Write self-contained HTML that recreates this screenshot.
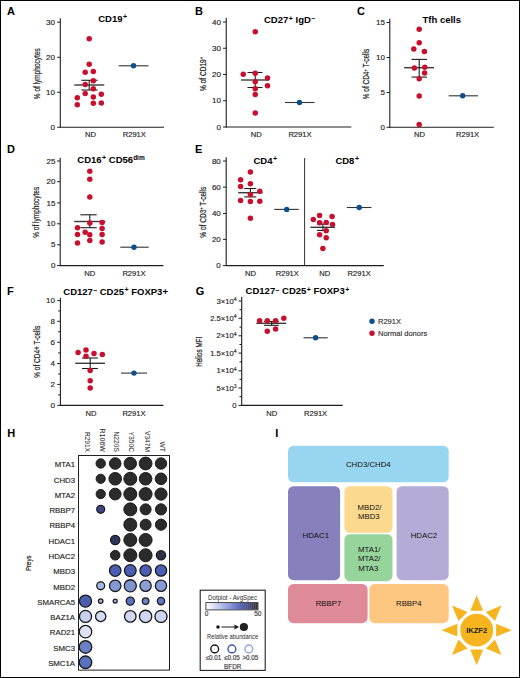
<!DOCTYPE html>
<html><head><meta charset="utf-8"><style>
html,body{margin:0;padding:0;background:#fff;}
svg{display:block;font-family:"Liberation Sans", sans-serif;}
</style></head><body>
<svg width="520" height="678" viewBox="0 0 520 678">
<rect x="0.5" y="0.5" width="519" height="677" fill="#fff" stroke="#000" stroke-width="1"/>
<text x="7.00" y="15.20" font-size="11" text-anchor="start" font-weight="bold" fill="#000" >A</text>
<line x1="60.30" y1="18.30" x2="60.30" y2="127.70" stroke="#1e1e1e" stroke-width="1.1"/>
<line x1="57.10" y1="127.20" x2="60.30" y2="127.20" stroke="#1e1e1e" stroke-width="1"/>
<text x="55.00" y="129.85" font-size="8" text-anchor="end" font-weight="normal" fill="#222" stroke="#222" stroke-width="0.15">0</text>
<line x1="57.10" y1="92.25" x2="60.30" y2="92.25" stroke="#1e1e1e" stroke-width="1"/>
<text x="55.00" y="94.90" font-size="8" text-anchor="end" font-weight="normal" fill="#222" stroke="#222" stroke-width="0.15">10</text>
<line x1="57.10" y1="57.30" x2="60.30" y2="57.30" stroke="#1e1e1e" stroke-width="1"/>
<text x="55.00" y="59.95" font-size="8" text-anchor="end" font-weight="normal" fill="#222" stroke="#222" stroke-width="0.15">20</text>
<line x1="57.10" y1="22.20" x2="60.30" y2="22.20" stroke="#1e1e1e" stroke-width="1"/>
<text x="55.00" y="24.85" font-size="8" text-anchor="end" font-weight="normal" fill="#222" stroke="#222" stroke-width="0.15">30</text>
<line x1="60.00" y1="127.20" x2="164.00" y2="127.20" stroke="#1e1e1e" stroke-width="1.1"/>
<text x="0" y="0" font-size="8.2" text-anchor="middle" fill="#222" stroke="#222" stroke-width="0.2" transform="translate(40,73.7) rotate(-90)" textLength="51" lengthAdjust="spacingAndGlyphs">% of lymphocytes</text>
<text x="98.2" y="21.6" font-size="9.5" font-weight="bold" fill="#000">CD19<tspan font-size="7" dx="0.5" dy="-2.3">+</tspan></text>
<line x1="74.30" y1="85.00" x2="104.30" y2="85.00" stroke="#3a3a3a" stroke-width="1.4"/>
<line x1="81.30" y1="80.30" x2="97.50" y2="80.30" stroke="#1e1e1e" stroke-width="1.1"/>
<line x1="81.30" y1="90.00" x2="97.50" y2="90.00" stroke="#1e1e1e" stroke-width="1.1"/>
<line x1="89.20" y1="80.30" x2="89.20" y2="90.00" stroke="#1e1e1e" stroke-width="1.1"/>
<line x1="118.70" y1="65.80" x2="148.50" y2="65.80" stroke="#333" stroke-width="1.1"/>
<text x="90.50" y="137.30" font-size="7.6" text-anchor="middle" font-weight="normal" fill="#222" stroke="#222" stroke-width="0.15">ND</text>
<text x="134.30" y="137.30" font-size="7.6" text-anchor="middle" font-weight="normal" fill="#222" stroke="#222" stroke-width="0.15">R291X</text>
<text x="195.00" y="15.20" font-size="11" text-anchor="start" font-weight="bold" fill="#000" >B</text>
<line x1="226.25" y1="18.00" x2="226.25" y2="127.50" stroke="#1e1e1e" stroke-width="1.1"/>
<line x1="223.05" y1="127.00" x2="226.25" y2="127.00" stroke="#1e1e1e" stroke-width="1"/>
<text x="221.00" y="129.65" font-size="8" text-anchor="end" font-weight="normal" fill="#222" stroke="#222" stroke-width="0.15">0</text>
<line x1="223.05" y1="100.75" x2="226.25" y2="100.75" stroke="#1e1e1e" stroke-width="1"/>
<text x="221.00" y="103.40" font-size="8" text-anchor="end" font-weight="normal" fill="#222" stroke="#222" stroke-width="0.15">10</text>
<line x1="223.05" y1="74.50" x2="226.25" y2="74.50" stroke="#1e1e1e" stroke-width="1"/>
<text x="221.00" y="77.15" font-size="8" text-anchor="end" font-weight="normal" fill="#222" stroke="#222" stroke-width="0.15">20</text>
<line x1="223.05" y1="48.25" x2="226.25" y2="48.25" stroke="#1e1e1e" stroke-width="1"/>
<text x="221.00" y="50.90" font-size="8" text-anchor="end" font-weight="normal" fill="#222" stroke="#222" stroke-width="0.15">30</text>
<line x1="223.05" y1="22.00" x2="226.25" y2="22.00" stroke="#1e1e1e" stroke-width="1"/>
<text x="221.00" y="24.65" font-size="8" text-anchor="end" font-weight="normal" fill="#222" stroke="#222" stroke-width="0.15">40</text>
<line x1="226.00" y1="127.00" x2="351.30" y2="127.00" stroke="#1e1e1e" stroke-width="1.1"/>
<text x="0" y="0" font-size="8.2" text-anchor="middle" fill="#222" stroke="#222" stroke-width="0.2" transform="translate(205.5,74) rotate(-90)" textLength="34" lengthAdjust="spacingAndGlyphs">% of CD19<tspan font-size="5" dy="-2.5">+</tspan></text>
<text x="264" y="23.2" font-size="9.5" font-weight="bold" fill="#000">CD27<tspan font-size="7" dx="0.5" dy="-2.3">+</tspan><tspan dy="2.3"> IgD</tspan><tspan font-size="7" dx="0.3" dy="-2.9">–</tspan></text>
<line x1="241.00" y1="80.00" x2="269.00" y2="80.00" stroke="#3a3a3a" stroke-width="1.4"/>
<line x1="247.50" y1="72.50" x2="262.50" y2="72.50" stroke="#1e1e1e" stroke-width="1.1"/>
<line x1="247.50" y1="87.50" x2="262.50" y2="87.50" stroke="#1e1e1e" stroke-width="1.1"/>
<line x1="255.25" y1="72.50" x2="255.25" y2="87.50" stroke="#1e1e1e" stroke-width="1.1"/>
<line x1="285.00" y1="102.50" x2="314.50" y2="102.50" stroke="#333" stroke-width="1.1"/>
<text x="256.25" y="137.30" font-size="7.6" text-anchor="middle" font-weight="normal" fill="#222" stroke="#222" stroke-width="0.15">ND</text>
<text x="300.00" y="137.30" font-size="7.6" text-anchor="middle" font-weight="normal" fill="#222" stroke="#222" stroke-width="0.15">R291X</text>
<text x="357.00" y="15.20" font-size="11" text-anchor="start" font-weight="bold" fill="#000" >C</text>
<line x1="389.80" y1="18.70" x2="389.80" y2="127.80" stroke="#1e1e1e" stroke-width="1.1"/>
<line x1="386.60" y1="127.30" x2="389.80" y2="127.30" stroke="#1e1e1e" stroke-width="1"/>
<text x="385.00" y="129.95" font-size="8" text-anchor="end" font-weight="normal" fill="#222" stroke="#222" stroke-width="0.15">0</text>
<line x1="386.60" y1="92.50" x2="389.80" y2="92.50" stroke="#1e1e1e" stroke-width="1"/>
<text x="385.00" y="95.15" font-size="8" text-anchor="end" font-weight="normal" fill="#222" stroke="#222" stroke-width="0.15">5</text>
<line x1="386.60" y1="57.50" x2="389.80" y2="57.50" stroke="#1e1e1e" stroke-width="1"/>
<text x="385.00" y="60.15" font-size="8" text-anchor="end" font-weight="normal" fill="#222" stroke="#222" stroke-width="0.15">10</text>
<line x1="386.60" y1="22.50" x2="389.80" y2="22.50" stroke="#1e1e1e" stroke-width="1"/>
<text x="385.00" y="25.15" font-size="8" text-anchor="end" font-weight="normal" fill="#222" stroke="#222" stroke-width="0.15">15</text>
<line x1="389.50" y1="127.30" x2="493.80" y2="127.30" stroke="#1e1e1e" stroke-width="1.1"/>
<text x="0" y="0" font-size="8.2" text-anchor="middle" fill="#222" stroke="#222" stroke-width="0.2" transform="translate(369.0,74.05) rotate(-90)" textLength="50.5" lengthAdjust="spacingAndGlyphs">% of CD4<tspan font-size="5" dy="-2.5">+</tspan><tspan dy="2.5"> T-cells</tspan></text>
<text x="422.5" y="23" font-size="9.5" font-weight="bold" fill="#000">Tfh cells</text>
<line x1="404.20" y1="67.70" x2="434.00" y2="67.70" stroke="#3a3a3a" stroke-width="1.4"/>
<line x1="411.50" y1="59.40" x2="427.00" y2="59.40" stroke="#1e1e1e" stroke-width="1.1"/>
<line x1="411.50" y1="77.10" x2="427.00" y2="77.10" stroke="#1e1e1e" stroke-width="1.1"/>
<line x1="419.20" y1="59.40" x2="419.20" y2="77.10" stroke="#1e1e1e" stroke-width="1.1"/>
<line x1="448.70" y1="95.80" x2="478.00" y2="95.80" stroke="#333" stroke-width="1.1"/>
<text x="419.60" y="137.30" font-size="7.6" text-anchor="middle" font-weight="normal" fill="#222" stroke="#222" stroke-width="0.15">ND</text>
<text x="467.60" y="137.30" font-size="7.6" text-anchor="middle" font-weight="normal" fill="#222" stroke="#222" stroke-width="0.15">R291X</text>
<text x="7.00" y="153.20" font-size="11" text-anchor="start" font-weight="bold" fill="#000" >D</text>
<line x1="60.20" y1="157.70" x2="60.20" y2="266.10" stroke="#1e1e1e" stroke-width="1.1"/>
<line x1="57.00" y1="265.60" x2="60.20" y2="265.60" stroke="#1e1e1e" stroke-width="1"/>
<text x="55.40" y="268.25" font-size="8" text-anchor="end" font-weight="normal" fill="#222" stroke="#222" stroke-width="0.15">0</text>
<line x1="57.00" y1="244.80" x2="60.20" y2="244.80" stroke="#1e1e1e" stroke-width="1"/>
<text x="55.40" y="247.45" font-size="8" text-anchor="end" font-weight="normal" fill="#222" stroke="#222" stroke-width="0.15">5</text>
<line x1="57.00" y1="223.80" x2="60.20" y2="223.80" stroke="#1e1e1e" stroke-width="1"/>
<text x="55.40" y="226.45" font-size="8" text-anchor="end" font-weight="normal" fill="#222" stroke="#222" stroke-width="0.15">10</text>
<line x1="57.00" y1="202.90" x2="60.20" y2="202.90" stroke="#1e1e1e" stroke-width="1"/>
<text x="55.40" y="205.55" font-size="8" text-anchor="end" font-weight="normal" fill="#222" stroke="#222" stroke-width="0.15">15</text>
<line x1="57.00" y1="181.70" x2="60.20" y2="181.70" stroke="#1e1e1e" stroke-width="1"/>
<text x="55.40" y="184.35" font-size="8" text-anchor="end" font-weight="normal" fill="#222" stroke="#222" stroke-width="0.15">20</text>
<line x1="57.00" y1="161.00" x2="60.20" y2="161.00" stroke="#1e1e1e" stroke-width="1"/>
<text x="55.40" y="163.65" font-size="8" text-anchor="end" font-weight="normal" fill="#222" stroke="#222" stroke-width="0.15">25</text>
<line x1="60.00" y1="265.60" x2="163.40" y2="265.60" stroke="#1e1e1e" stroke-width="1.1"/>
<text x="0" y="0" font-size="8.2" text-anchor="middle" fill="#222" stroke="#222" stroke-width="0.2" transform="translate(38.9,212.25) rotate(-90)" textLength="51" lengthAdjust="spacingAndGlyphs">% of lymphocytes</text>
<text x="77.3" y="162.7" font-size="9.5" font-weight="bold" fill="#000">CD16<tspan font-size="7" dx="0.5" dy="-2.3">+</tspan><tspan dy="2.3"> CD56</tspan><tspan font-size="6.5" dy="-2.5">dim</tspan></text>
<line x1="74.20" y1="221.50" x2="105.40" y2="221.50" stroke="#3a3a3a" stroke-width="1.4"/>
<line x1="80.40" y1="214.80" x2="96.70" y2="214.80" stroke="#1e1e1e" stroke-width="1.1"/>
<line x1="80.40" y1="227.70" x2="96.70" y2="227.70" stroke="#1e1e1e" stroke-width="1.1"/>
<line x1="89.80" y1="214.80" x2="89.80" y2="227.70" stroke="#1e1e1e" stroke-width="1.1"/>
<line x1="120.30" y1="247.20" x2="148.70" y2="247.20" stroke="#333" stroke-width="1.1"/>
<text x="89.80" y="276.00" font-size="7.6" text-anchor="middle" font-weight="normal" fill="#222" stroke="#222" stroke-width="0.15">ND</text>
<text x="134.00" y="276.00" font-size="7.6" text-anchor="middle" font-weight="normal" fill="#222" stroke="#222" stroke-width="0.15">R291X</text>
<text x="195.00" y="153.20" font-size="11" text-anchor="start" font-weight="bold" fill="#000" >E</text>
<line x1="226.20" y1="157.30" x2="226.20" y2="266.10" stroke="#1e1e1e" stroke-width="1.1"/>
<line x1="223.00" y1="265.60" x2="226.20" y2="265.60" stroke="#1e1e1e" stroke-width="1"/>
<text x="220.80" y="268.25" font-size="8" text-anchor="end" font-weight="normal" fill="#222" stroke="#222" stroke-width="0.15">0</text>
<line x1="223.00" y1="239.40" x2="226.20" y2="239.40" stroke="#1e1e1e" stroke-width="1"/>
<text x="220.80" y="242.05" font-size="8" text-anchor="end" font-weight="normal" fill="#222" stroke="#222" stroke-width="0.15">20</text>
<line x1="223.00" y1="213.50" x2="226.20" y2="213.50" stroke="#1e1e1e" stroke-width="1"/>
<text x="220.80" y="216.15" font-size="8" text-anchor="end" font-weight="normal" fill="#222" stroke="#222" stroke-width="0.15">40</text>
<line x1="223.00" y1="187.10" x2="226.20" y2="187.10" stroke="#1e1e1e" stroke-width="1"/>
<text x="220.80" y="189.75" font-size="8" text-anchor="end" font-weight="normal" fill="#222" stroke="#222" stroke-width="0.15">60</text>
<line x1="223.00" y1="161.00" x2="226.20" y2="161.00" stroke="#1e1e1e" stroke-width="1"/>
<text x="220.80" y="163.65" font-size="8" text-anchor="end" font-weight="normal" fill="#222" stroke="#222" stroke-width="0.15">80</text>
<line x1="226.00" y1="265.60" x2="383.80" y2="265.60" stroke="#1e1e1e" stroke-width="1.1"/>
<text x="0" y="0" font-size="8.2" text-anchor="middle" fill="#222" stroke="#222" stroke-width="0.2" transform="translate(205.6,212.25) rotate(-90)" textLength="51" lengthAdjust="spacingAndGlyphs">% of CD3<tspan font-size="5" dy="-2.5">+</tspan><tspan dy="2.5"> T-cells</tspan></text>
<line x1="304.60" y1="158.00" x2="304.60" y2="265.60" stroke="#333" stroke-width="1"/>
<text x="253.5" y="163.7" font-size="9.5" font-weight="bold" fill="#000">CD4<tspan font-size="7" dx="0.5" dy="-2.3">+</tspan></text>
<text x="335.4" y="163.7" font-size="9.5" font-weight="bold" fill="#000">CD8<tspan font-size="7" dx="0.5" dy="-2.3">+</tspan></text>
<line x1="238.20" y1="192.70" x2="262.50" y2="192.70" stroke="#3a3a3a" stroke-width="1.4"/>
<line x1="244.20" y1="188.50" x2="256.30" y2="188.50" stroke="#1e1e1e" stroke-width="1.1"/>
<line x1="244.20" y1="196.90" x2="256.30" y2="196.90" stroke="#1e1e1e" stroke-width="1.1"/>
<line x1="250.40" y1="188.50" x2="250.40" y2="196.90" stroke="#1e1e1e" stroke-width="1.1"/>
<line x1="274.20" y1="209.40" x2="298.80" y2="209.40" stroke="#333" stroke-width="1.1"/>
<line x1="310.40" y1="227.30" x2="335.00" y2="227.30" stroke="#3a3a3a" stroke-width="1.4"/>
<line x1="317.00" y1="224.00" x2="328.70" y2="224.00" stroke="#1e1e1e" stroke-width="1.1"/>
<line x1="317.00" y1="230.40" x2="328.70" y2="230.40" stroke="#1e1e1e" stroke-width="1.1"/>
<line x1="322.90" y1="224.00" x2="322.90" y2="230.40" stroke="#1e1e1e" stroke-width="1.1"/>
<line x1="346.80" y1="207.50" x2="371.50" y2="207.50" stroke="#333" stroke-width="1.1"/>
<text x="250.40" y="276.00" font-size="7.6" text-anchor="middle" font-weight="normal" fill="#222" stroke="#222" stroke-width="0.15">ND</text>
<text x="287.30" y="276.00" font-size="7.6" text-anchor="middle" font-weight="normal" fill="#222" stroke="#222" stroke-width="0.15">R291X</text>
<text x="324.80" y="276.00" font-size="7.6" text-anchor="middle" font-weight="normal" fill="#222" stroke="#222" stroke-width="0.15">ND</text>
<text x="359.20" y="276.00" font-size="7.6" text-anchor="middle" font-weight="normal" fill="#222" stroke="#222" stroke-width="0.15">R291X</text>
<text x="7.00" y="295.00" font-size="11" text-anchor="start" font-weight="bold" fill="#000" >F</text>
<line x1="60.40" y1="297.70" x2="60.40" y2="405.90" stroke="#1e1e1e" stroke-width="1.1"/>
<line x1="57.20" y1="405.40" x2="60.40" y2="405.40" stroke="#1e1e1e" stroke-width="1"/>
<text x="55.00" y="408.05" font-size="8" text-anchor="end" font-weight="normal" fill="#222" stroke="#222" stroke-width="0.15">0</text>
<line x1="57.20" y1="384.40" x2="60.40" y2="384.40" stroke="#1e1e1e" stroke-width="1"/>
<text x="55.00" y="387.05" font-size="8" text-anchor="end" font-weight="normal" fill="#222" stroke="#222" stroke-width="0.15">2</text>
<line x1="57.20" y1="363.50" x2="60.40" y2="363.50" stroke="#1e1e1e" stroke-width="1"/>
<text x="55.00" y="366.15" font-size="8" text-anchor="end" font-weight="normal" fill="#222" stroke="#222" stroke-width="0.15">4</text>
<line x1="57.20" y1="342.30" x2="60.40" y2="342.30" stroke="#1e1e1e" stroke-width="1"/>
<text x="55.00" y="344.95" font-size="8" text-anchor="end" font-weight="normal" fill="#222" stroke="#222" stroke-width="0.15">6</text>
<line x1="57.20" y1="321.30" x2="60.40" y2="321.30" stroke="#1e1e1e" stroke-width="1"/>
<text x="55.00" y="323.95" font-size="8" text-anchor="end" font-weight="normal" fill="#222" stroke="#222" stroke-width="0.15">8</text>
<line x1="57.20" y1="300.60" x2="60.40" y2="300.60" stroke="#1e1e1e" stroke-width="1"/>
<text x="55.00" y="303.25" font-size="8" text-anchor="end" font-weight="normal" fill="#222" stroke="#222" stroke-width="0.15">10</text>
<line x1="58.20" y1="394.90" x2="60.40" y2="394.90" stroke="#1e1e1e" stroke-width="1"/>
<line x1="58.20" y1="373.95" x2="60.40" y2="373.95" stroke="#1e1e1e" stroke-width="1"/>
<line x1="58.20" y1="352.90" x2="60.40" y2="352.90" stroke="#1e1e1e" stroke-width="1"/>
<line x1="58.20" y1="331.80" x2="60.40" y2="331.80" stroke="#1e1e1e" stroke-width="1"/>
<line x1="58.20" y1="310.95" x2="60.40" y2="310.95" stroke="#1e1e1e" stroke-width="1"/>
<line x1="60.00" y1="405.40" x2="163.40" y2="405.40" stroke="#1e1e1e" stroke-width="1.1"/>
<text x="0" y="0" font-size="8.2" text-anchor="middle" fill="#222" stroke="#222" stroke-width="0.2" transform="translate(39.7,351.75) rotate(-90)" textLength="52" lengthAdjust="spacingAndGlyphs">% of CD4+ T-cells</text>
<text x="63.3" y="294.6" font-size="9.5" font-weight="bold" fill="#000">CD127<tspan font-size="7" dx="0.3" dy="-2.9">–</tspan><tspan dy="2.9"> CD25</tspan><tspan font-size="7" dx="0.5" dy="-2.3">+</tspan><tspan dy="2.3"> FOXP3+</tspan></text>
<line x1="75.20" y1="363.30" x2="105.00" y2="363.30" stroke="#3a3a3a" stroke-width="1.4"/>
<line x1="82.00" y1="358.00" x2="97.90" y2="358.00" stroke="#1e1e1e" stroke-width="1.1"/>
<line x1="82.00" y1="368.50" x2="97.90" y2="368.50" stroke="#1e1e1e" stroke-width="1.1"/>
<line x1="90.20" y1="358.00" x2="90.20" y2="368.50" stroke="#1e1e1e" stroke-width="1.1"/>
<line x1="121.00" y1="373.10" x2="147.00" y2="373.10" stroke="#333" stroke-width="1.1"/>
<text x="91.00" y="415.50" font-size="7.6" text-anchor="middle" font-weight="normal" fill="#222" stroke="#222" stroke-width="0.15">ND</text>
<text x="134.00" y="415.50" font-size="7.6" text-anchor="middle" font-weight="normal" fill="#222" stroke="#222" stroke-width="0.15">R291X</text>
<text x="195.70" y="295.00" font-size="11" text-anchor="start" font-weight="bold" fill="#000" >G</text>
<line x1="241.70" y1="296.80" x2="241.70" y2="405.90" stroke="#1e1e1e" stroke-width="1.1"/>
<line x1="238.50" y1="301.00" x2="241.70" y2="301.00" stroke="#1e1e1e" stroke-width="1"/>
<text x="236.50" y="303.65" font-size="7.6" text-anchor="end" font-weight="normal" fill="#222" stroke="#222" stroke-width="0.15">3×10<tspan font-size="5" dy="-2.6">4</tspan></text>
<line x1="238.50" y1="318.30" x2="241.70" y2="318.30" stroke="#1e1e1e" stroke-width="1"/>
<text x="236.50" y="320.95" font-size="7.6" text-anchor="end" font-weight="normal" fill="#222" stroke="#222" stroke-width="0.15">2.5×10<tspan font-size="5" dy="-2.6">4</tspan></text>
<line x1="238.50" y1="335.80" x2="241.70" y2="335.80" stroke="#1e1e1e" stroke-width="1"/>
<text x="236.50" y="338.45" font-size="7.6" text-anchor="end" font-weight="normal" fill="#222" stroke="#222" stroke-width="0.15">2×10<tspan font-size="5" dy="-2.6">4</tspan></text>
<line x1="238.50" y1="353.10" x2="241.70" y2="353.10" stroke="#1e1e1e" stroke-width="1"/>
<text x="236.50" y="355.75" font-size="7.6" text-anchor="end" font-weight="normal" fill="#222" stroke="#222" stroke-width="0.15">1.5×10<tspan font-size="5" dy="-2.6">4</tspan></text>
<line x1="238.50" y1="370.80" x2="241.70" y2="370.80" stroke="#1e1e1e" stroke-width="1"/>
<text x="236.50" y="373.45" font-size="7.6" text-anchor="end" font-weight="normal" fill="#222" stroke="#222" stroke-width="0.15">1×10<tspan font-size="5" dy="-2.6">4</tspan></text>
<line x1="238.50" y1="388.00" x2="241.70" y2="388.00" stroke="#1e1e1e" stroke-width="1"/>
<text x="236.50" y="390.65" font-size="7.6" text-anchor="end" font-weight="normal" fill="#222" stroke="#222" stroke-width="0.15">5×10<tspan font-size="5" dy="-2.6">3</tspan></text>
<line x1="238.50" y1="405.40" x2="241.70" y2="405.40" stroke="#1e1e1e" stroke-width="1"/>
<text x="236.50" y="408.05" font-size="7.6" text-anchor="end" font-weight="normal" fill="#222" stroke="#222" stroke-width="0.15">0</text>
<line x1="239.50" y1="309.70" x2="241.70" y2="309.70" stroke="#1e1e1e" stroke-width="1"/>
<line x1="239.50" y1="327.10" x2="241.70" y2="327.10" stroke="#1e1e1e" stroke-width="1"/>
<line x1="239.50" y1="344.50" x2="241.70" y2="344.50" stroke="#1e1e1e" stroke-width="1"/>
<line x1="239.50" y1="361.90" x2="241.70" y2="361.90" stroke="#1e1e1e" stroke-width="1"/>
<line x1="239.50" y1="379.30" x2="241.70" y2="379.30" stroke="#1e1e1e" stroke-width="1"/>
<line x1="239.50" y1="396.70" x2="241.70" y2="396.70" stroke="#1e1e1e" stroke-width="1"/>
<line x1="241.50" y1="405.40" x2="342.70" y2="405.40" stroke="#1e1e1e" stroke-width="1.1"/>
<text x="0" y="0" font-size="8.2" text-anchor="middle" fill="#222" stroke="#222" stroke-width="0.2" transform="translate(202.2,351.8) rotate(-90)" textLength="30" lengthAdjust="spacingAndGlyphs">Helios MFI</text>
<text x="245.6" y="294.4" font-size="9.5" font-weight="bold" fill="#000">CD127<tspan font-size="7" dx="0.3" dy="-2.9">–</tspan><tspan dy="2.9"> CD25</tspan><tspan font-size="7" dx="0.5" dy="-2.3">+</tspan><tspan dy="2.3"> FOXP3</tspan><tspan font-size="7" dx="0.5" dy="-2.3">+</tspan></text>
<line x1="256.30" y1="323.30" x2="286.20" y2="323.30" stroke="#3a3a3a" stroke-width="1.4"/>
<line x1="264.00" y1="321.50" x2="278.80" y2="321.50" stroke="#1e1e1e" stroke-width="1.1"/>
<line x1="264.00" y1="325.30" x2="278.80" y2="325.30" stroke="#1e1e1e" stroke-width="1.1"/>
<line x1="271.70" y1="321.50" x2="271.70" y2="325.30" stroke="#1e1e1e" stroke-width="1.1"/>
<line x1="303.50" y1="337.80" x2="327.70" y2="337.80" stroke="#333" stroke-width="1.1"/>
<text x="271.70" y="415.50" font-size="7.6" text-anchor="middle" font-weight="normal" fill="#222" stroke="#222" stroke-width="0.15">ND</text>
<text x="315.60" y="415.50" font-size="7.6" text-anchor="middle" font-weight="normal" fill="#222" stroke="#222" stroke-width="0.15">R291X</text>
<text x="378.00" y="324.00" font-size="7.5" text-anchor="start" font-weight="normal" fill="#333" stroke="#333" stroke-width="0.15">R291X</text>
<text x="378.00" y="336.00" font-size="7.5" text-anchor="start" font-weight="normal" fill="#333" stroke="#333" stroke-width="0.15">Normal donors</text>
<text x="7.30" y="437.00" font-size="11" text-anchor="start" font-weight="bold" fill="#000" >H</text>
<rect x="78.5" y="455.5" width="91" height="214.6" fill="#fff" stroke="#222" stroke-width="1"/>
<text x="75.00" y="467.30" font-size="7.8" text-anchor="end" font-weight="normal" fill="#222" stroke="#222" stroke-width="0.15">MTA1</text>
<text x="75.00" y="482.59" font-size="7.8" text-anchor="end" font-weight="normal" fill="#222" stroke="#222" stroke-width="0.15">CHD3</text>
<text x="75.00" y="497.88" font-size="7.8" text-anchor="end" font-weight="normal" fill="#222" stroke="#222" stroke-width="0.15">MTA2</text>
<text x="75.00" y="513.17" font-size="7.8" text-anchor="end" font-weight="normal" fill="#222" stroke="#222" stroke-width="0.15">RBBP7</text>
<text x="75.00" y="528.46" font-size="7.8" text-anchor="end" font-weight="normal" fill="#222" stroke="#222" stroke-width="0.15">RBBP4</text>
<text x="75.00" y="543.75" font-size="7.8" text-anchor="end" font-weight="normal" fill="#222" stroke="#222" stroke-width="0.15">HDAC1</text>
<text x="75.00" y="559.04" font-size="7.8" text-anchor="end" font-weight="normal" fill="#222" stroke="#222" stroke-width="0.15">HDAC2</text>
<text x="75.00" y="574.33" font-size="7.8" text-anchor="end" font-weight="normal" fill="#222" stroke="#222" stroke-width="0.15">MBD3</text>
<text x="75.00" y="589.62" font-size="7.8" text-anchor="end" font-weight="normal" fill="#222" stroke="#222" stroke-width="0.15">MBD2</text>
<text x="75.00" y="604.91" font-size="7.8" text-anchor="end" font-weight="normal" fill="#222" stroke="#222" stroke-width="0.15">SMARCA5</text>
<text x="75.00" y="620.20" font-size="7.8" text-anchor="end" font-weight="normal" fill="#222" stroke="#222" stroke-width="0.15">BAZ1A</text>
<text x="75.00" y="635.49" font-size="7.8" text-anchor="end" font-weight="normal" fill="#222" stroke="#222" stroke-width="0.15">RAD21</text>
<text x="75.00" y="650.78" font-size="7.8" text-anchor="end" font-weight="normal" fill="#222" stroke="#222" stroke-width="0.15">SMC3</text>
<text x="75.00" y="666.07" font-size="7.8" text-anchor="end" font-weight="normal" fill="#222" stroke="#222" stroke-width="0.15">SMC1A</text>
<text x="0" y="0" font-size="7" text-anchor="end" fill="#222" transform="translate(84.5,452) rotate(90)" textLength="20" lengthAdjust="spacingAndGlyphs">R291X</text>
<text x="0" y="0" font-size="7" text-anchor="end" fill="#222" transform="translate(99.7,452) rotate(90)" textLength="23.5" lengthAdjust="spacingAndGlyphs">R106W</text>
<text x="0" y="0" font-size="7" text-anchor="end" fill="#222" transform="translate(114.2,452) rotate(90)" textLength="20.5" lengthAdjust="spacingAndGlyphs">N220S</text>
<text x="0" y="0" font-size="7" text-anchor="end" fill="#222" transform="translate(129.3,452) rotate(90)" textLength="20.5" lengthAdjust="spacingAndGlyphs">Y350C</text>
<text x="0" y="0" font-size="7" text-anchor="end" fill="#222" transform="translate(144.6,452) rotate(90)" textLength="21" lengthAdjust="spacingAndGlyphs">V347M</text>
<text x="0" y="0" font-size="7" text-anchor="end" fill="#222" transform="translate(160.0,452) rotate(90)" textLength="10.5" lengthAdjust="spacingAndGlyphs">WT</text>
<text x="0" y="0" font-size="7.5" text-anchor="middle" fill="#222" stroke="#222" stroke-width="0.2" transform="translate(31.3,563.3) rotate(-90)" textLength="15.5" lengthAdjust="spacingAndGlyphs">Preys</text>
<circle cx="100.70" cy="463.50" r="4.70" fill="#2b2b2b" stroke="#1a1a1a" stroke-width="1.0"/>
<circle cx="115.20" cy="463.50" r="5.80" fill="#2b2b2b" stroke="#1a1a1a" stroke-width="1.0"/>
<circle cx="130.30" cy="463.50" r="6.20" fill="#2b2b2b" stroke="#1a1a1a" stroke-width="1.0"/>
<circle cx="145.60" cy="463.50" r="6.40" fill="#2b2b2b" stroke="#1a1a1a" stroke-width="1.0"/>
<circle cx="161.00" cy="463.50" r="5.70" fill="#2b2b2b" stroke="#1a1a1a" stroke-width="1.0"/>
<circle cx="100.70" cy="478.79" r="4.60" fill="#2b2b2b" stroke="#1a1a1a" stroke-width="1.0"/>
<circle cx="115.20" cy="478.79" r="6.30" fill="#2b2b2b" stroke="#1a1a1a" stroke-width="1.0"/>
<circle cx="130.30" cy="478.79" r="6.50" fill="#2b2b2b" stroke="#1a1a1a" stroke-width="1.0"/>
<circle cx="145.60" cy="478.79" r="6.30" fill="#2b2b2b" stroke="#1a1a1a" stroke-width="1.0"/>
<circle cx="161.00" cy="478.79" r="5.80" fill="#2b2b2b" stroke="#1a1a1a" stroke-width="1.0"/>
<circle cx="100.70" cy="494.08" r="4.60" fill="#2b2b2b" stroke="#1a1a1a" stroke-width="1.0"/>
<circle cx="115.20" cy="494.08" r="5.90" fill="#2b2b2b" stroke="#1a1a1a" stroke-width="1.0"/>
<circle cx="130.30" cy="494.08" r="6.50" fill="#2b2b2b" stroke="#1a1a1a" stroke-width="1.0"/>
<circle cx="145.60" cy="494.08" r="6.50" fill="#2b2b2b" stroke="#1a1a1a" stroke-width="1.0"/>
<circle cx="161.00" cy="494.08" r="6.10" fill="#2b2b2b" stroke="#1a1a1a" stroke-width="1.0"/>
<circle cx="100.70" cy="509.37" r="3.95" fill="#3a4585" stroke="#1a1a1a" stroke-width="1.3"/>
<circle cx="130.30" cy="509.37" r="6.50" fill="#2b2b2b" stroke="#1a1a1a" stroke-width="1.0"/>
<circle cx="145.60" cy="509.37" r="5.50" fill="#2b2b2b" stroke="#1a1a1a" stroke-width="1.0"/>
<circle cx="161.00" cy="509.37" r="5.60" fill="#2b2b2b" stroke="#1a1a1a" stroke-width="1.0"/>
<circle cx="130.30" cy="524.66" r="6.50" fill="#2b2b2b" stroke="#1a1a1a" stroke-width="1.0"/>
<circle cx="145.60" cy="524.66" r="5.50" fill="#2b2b2b" stroke="#1a1a1a" stroke-width="1.0"/>
<circle cx="161.00" cy="524.66" r="5.60" fill="#2b2b2b" stroke="#1a1a1a" stroke-width="1.0"/>
<circle cx="115.20" cy="539.95" r="4.65" fill="#2d3658" stroke="#1a1a1a" stroke-width="1.3"/>
<circle cx="130.30" cy="539.95" r="6.50" fill="#2b2b2b" stroke="#1a1a1a" stroke-width="1.0"/>
<circle cx="145.60" cy="539.95" r="6.50" fill="#2b2b2b" stroke="#1a1a1a" stroke-width="1.0"/>
<circle cx="115.20" cy="555.24" r="4.80" fill="#2b2b2b" stroke="#1a1a1a" stroke-width="1.0"/>
<circle cx="130.30" cy="555.24" r="6.50" fill="#2b2b2b" stroke="#1a1a1a" stroke-width="1.0"/>
<circle cx="145.60" cy="555.24" r="6.50" fill="#2b2b2b" stroke="#1a1a1a" stroke-width="1.0"/>
<circle cx="161.00" cy="555.24" r="4.65" fill="#2e3145" stroke="#1a1a1a" stroke-width="1.3"/>
<circle cx="115.20" cy="570.53" r="5.75" fill="#4a5fb4" stroke="#1a1a1a" stroke-width="1.3"/>
<circle cx="130.30" cy="570.53" r="5.85" fill="#4a5fb4" stroke="#1a1a1a" stroke-width="1.3"/>
<circle cx="145.60" cy="570.53" r="5.65" fill="#4a5fb4" stroke="#1a1a1a" stroke-width="1.3"/>
<circle cx="161.00" cy="570.53" r="5.65" fill="#4a5fb4" stroke="#1a1a1a" stroke-width="1.3"/>
<circle cx="100.70" cy="585.82" r="3.95" fill="#a3b4e6" stroke="#1a1a1a" stroke-width="1.3"/>
<circle cx="115.20" cy="585.82" r="5.75" fill="#8499d4" stroke="#1a1a1a" stroke-width="1.3"/>
<circle cx="130.30" cy="585.82" r="6.05" fill="#7f95d2" stroke="#1a1a1a" stroke-width="1.3"/>
<circle cx="145.60" cy="585.82" r="5.65" fill="#8a9fd8" stroke="#1a1a1a" stroke-width="1.3"/>
<circle cx="161.00" cy="585.82" r="5.65" fill="#869bd6" stroke="#1a1a1a" stroke-width="1.3"/>
<circle cx="85.50" cy="601.11" r="6.05" fill="#4a5fb0" stroke="#1a1a1a" stroke-width="1.3"/>
<circle cx="100.70" cy="601.11" r="2.25" fill="#a8b8e6" stroke="#1a1a1a" stroke-width="1.3"/>
<circle cx="115.20" cy="601.11" r="1.95" fill="#a8b8e6" stroke="#1a1a1a" stroke-width="1.3"/>
<circle cx="130.30" cy="601.11" r="4.05" fill="#5b72c0" stroke="#1a1a1a" stroke-width="1.3"/>
<circle cx="145.60" cy="601.11" r="3.25" fill="#6d84c8" stroke="#1a1a1a" stroke-width="1.3"/>
<circle cx="161.00" cy="601.11" r="3.65" fill="#5f76c2" stroke="#1a1a1a" stroke-width="1.3"/>
<circle cx="85.50" cy="616.40" r="6.05" fill="#c8d2ee" stroke="#1a1a1a" stroke-width="1.3"/>
<circle cx="100.70" cy="616.40" r="5.15" fill="#d3dcf2" stroke="#1a1a1a" stroke-width="1.3"/>
<circle cx="130.30" cy="616.40" r="5.75" fill="#d0d9f1" stroke="#1a1a1a" stroke-width="1.3"/>
<circle cx="145.60" cy="616.40" r="6.15" fill="#cfd8f1" stroke="#1a1a1a" stroke-width="1.3"/>
<circle cx="161.00" cy="616.40" r="6.05" fill="#cdd6f0" stroke="#1a1a1a" stroke-width="1.3"/>
<circle cx="85.50" cy="631.69" r="6.25" fill="#dde3f3" stroke="#1a1a1a" stroke-width="1.3"/>
<circle cx="85.50" cy="646.98" r="6.25" fill="#6b80c6" stroke="#1a1a1a" stroke-width="1.3"/>
<circle cx="85.50" cy="662.27" r="6.25" fill="#5a70c0" stroke="#1a1a1a" stroke-width="1.3"/>
<rect x="200.2" y="590.2" width="65" height="80.2" fill="#fff" stroke="#222" stroke-width="1.1"/>
<text x="232.6" y="600.2" font-size="6.6" text-anchor="middle" fill="#2a2a2a" textLength="49" lengthAdjust="spacingAndGlyphs">Dotplot - AvgSpec</text>
<rect x="206.30" y="603" width="2.12" height="6.6" fill="#fafbfe"/>
<rect x="208.27" y="603" width="2.12" height="6.6" fill="#f0f2fb"/>
<rect x="210.25" y="603" width="2.12" height="6.6" fill="#e5e9f8"/>
<rect x="212.22" y="603" width="2.12" height="6.6" fill="#dbe0f6"/>
<rect x="214.19" y="603" width="2.12" height="6.6" fill="#d1d7f3"/>
<rect x="216.17" y="603" width="2.12" height="6.6" fill="#c6cef1"/>
<rect x="218.14" y="603" width="2.12" height="6.6" fill="#bcc5ee"/>
<rect x="220.11" y="603" width="2.12" height="6.6" fill="#b3bdeb"/>
<rect x="222.08" y="603" width="2.12" height="6.6" fill="#aab5e7"/>
<rect x="224.06" y="603" width="2.12" height="6.6" fill="#a1ade4"/>
<rect x="226.03" y="603" width="2.12" height="6.6" fill="#98a4e0"/>
<rect x="228.00" y="603" width="2.12" height="6.6" fill="#8f9cdd"/>
<rect x="229.98" y="603" width="2.12" height="6.6" fill="#8694da"/>
<rect x="231.95" y="603" width="2.12" height="6.6" fill="#7d8bd4"/>
<rect x="233.92" y="603" width="2.12" height="6.6" fill="#7482cc"/>
<rect x="235.90" y="603" width="2.12" height="6.6" fill="#6b79c4"/>
<rect x="237.87" y="603" width="2.12" height="6.6" fill="#6270bc"/>
<rect x="239.84" y="603" width="2.12" height="6.6" fill="#5967b3"/>
<rect x="241.82" y="603" width="2.12" height="6.6" fill="#5460a8"/>
<rect x="243.79" y="603" width="2.12" height="6.6" fill="#505b9b"/>
<rect x="245.76" y="603" width="2.12" height="6.6" fill="#4d558e"/>
<rect x="247.73" y="603" width="2.12" height="6.6" fill="#494f82"/>
<rect x="249.71" y="603" width="2.12" height="6.6" fill="#444972"/>
<rect x="251.68" y="603" width="2.12" height="6.6" fill="#3d415f"/>
<rect x="253.65" y="603" width="2.12" height="6.6" fill="#36384c"/>
<rect x="255.63" y="603" width="2.12" height="6.6" fill="#2f3039"/>
<rect x="205.9" y="602.6" width="52.1" height="7.3" fill="none" stroke="#333" stroke-width="0.9"/>
<text x="206.50" y="616.20" font-size="6.5" text-anchor="middle" font-weight="normal" fill="#333" stroke="#333" stroke-width="0.15">0</text>
<text x="257.80" y="616.20" font-size="6.5" text-anchor="middle" font-weight="normal" fill="#333" stroke="#333" stroke-width="0.15">50</text>
<line x1="221.50" y1="627.00" x2="235.00" y2="627.00" stroke="#1a1a1a" stroke-width="1"/>
<path d="M234.5,624.6 L239,627 L234.5,629.4 Z" fill="#1a1a1a"/>
<text x="232.6" y="639" font-size="6.6" text-anchor="middle" fill="#2a2a2a" textLength="51" lengthAdjust="spacingAndGlyphs">Relative abundance</text>
<circle cx="214.7" cy="648.9" r="3.9" fill="none" stroke="#1a1a1a" stroke-width="1.4"/>
<circle cx="231.9" cy="648.9" r="3.9" fill="none" stroke="#3f56b0" stroke-width="1.4"/>
<circle cx="248.8" cy="648.9" r="3.9" fill="none" stroke="#8fa3dd" stroke-width="1.4"/>
<text x="213.50" y="660.00" font-size="6.3" text-anchor="middle" font-weight="normal" fill="#333" stroke="#333" stroke-width="0.15">≤0.01</text>
<text x="231.90" y="660.00" font-size="6.3" text-anchor="middle" font-weight="normal" fill="#333" stroke="#333" stroke-width="0.15">≤0.05</text>
<text x="250.40" y="660.00" font-size="6.3" text-anchor="middle" font-weight="normal" fill="#333" stroke="#333" stroke-width="0.15">&gt;0.05</text>
<text x="232.70" y="668.80" font-size="6.3" text-anchor="middle" font-weight="normal" fill="#333" stroke="#333" stroke-width="0.15">BFDR</text>
<text x="275.20" y="436.70" font-size="11" text-anchor="start" font-weight="bold" fill="#000" >I</text>
<rect x="288" y="445.8" width="160.7" height="36.5" rx="5.5" ry="5.5" fill="#97d5f0"/>
<rect x="288" y="486.2" width="52.10000000000002" height="94.00000000000006" rx="5.5" ry="5.5" fill="#8680bd"/>
<rect x="344.4" y="486.2" width="48.10000000000002" height="46.599999999999966" rx="5.5" ry="5.5" fill="#fbd98e"/>
<rect x="344.4" y="534.2" width="48.10000000000002" height="47.0" rx="5.5" ry="5.5" fill="#96d49c"/>
<rect x="396.6" y="486.2" width="52.099999999999966" height="94.00000000000006" rx="5.5" ry="5.5" fill="#b4acd6"/>
<rect x="288" y="584" width="79.60000000000002" height="39.200000000000045" rx="5.5" ry="5.5" fill="#de8a98"/>
<rect x="369.3" y="584" width="79.39999999999998" height="39.200000000000045" rx="5.5" ry="5.5" fill="#fdc782"/>
<text x="368.30" y="466.80" font-size="7.8" text-anchor="middle" font-weight="normal" fill="#111" stroke="none">CHD3/CHD4</text>
<text x="315.80" y="537.80" font-size="7.8" text-anchor="middle" font-weight="normal" fill="#111" stroke="none">HDAC1</text>
<text x="423.90" y="537.80" font-size="7.8" text-anchor="middle" font-weight="normal" fill="#111" stroke="none">HDAC2</text>
<text x="369.50" y="510.30" font-size="7.8" text-anchor="middle" font-weight="normal" fill="#111" stroke="none">MBD2/</text>
<text x="368.80" y="519.30" font-size="7.8" text-anchor="middle" font-weight="normal" fill="#111" stroke="none">MBD3</text>
<text x="369.30" y="551.80" font-size="7.8" text-anchor="middle" font-weight="normal" fill="#111" stroke="none">MTA1/</text>
<text x="369.30" y="561.20" font-size="7.8" text-anchor="middle" font-weight="normal" fill="#111" stroke="none">MTA2/</text>
<text x="368.30" y="570.60" font-size="7.8" text-anchor="middle" font-weight="normal" fill="#111" stroke="none">MTA3</text>
<text x="328.50" y="606.20" font-size="7.8" text-anchor="middle" font-weight="normal" fill="#111" stroke="none">RBBP7</text>
<text x="408.80" y="606.20" font-size="7.8" text-anchor="middle" font-weight="normal" fill="#111" stroke="none">RBBP4</text>
<circle cx="476.7" cy="630.2" r="16.4" fill="#f6b51f"/>
<path d="M483.10,610.80 L476.70,595.20 L470.30,610.80 Z" fill="#f6b51f"/>
<path d="M494.94,621.01 L501.45,605.45 L485.89,611.96 Z" fill="#f6b51f"/>
<path d="M496.10,636.60 L511.70,630.20 L496.10,623.80 Z" fill="#f6b51f"/>
<path d="M485.89,648.44 L501.45,654.95 L494.94,639.39 Z" fill="#f6b51f"/>
<path d="M470.30,649.60 L476.70,665.20 L483.10,649.60 Z" fill="#f6b51f"/>
<path d="M458.46,639.39 L451.95,654.95 L467.51,648.44 Z" fill="#f6b51f"/>
<path d="M457.30,623.80 L441.70,630.20 L457.30,636.60 Z" fill="#f6b51f"/>
<path d="M467.51,611.96 L451.95,605.45 L458.46,621.01 Z" fill="#f6b51f"/>
<text x="476.70" y="633.00" font-size="7.6" text-anchor="middle" font-weight="bold" fill="#222" >IKZF2</text>
<circle cx="89.2" cy="38.7" r="2.75" fill="#c8102e"/>
<circle cx="89.2" cy="64.2" r="2.75" fill="#c8102e"/>
<circle cx="85.2" cy="72.3" r="2.75" fill="#c8102e"/>
<circle cx="93.3" cy="71.5" r="2.75" fill="#c8102e"/>
<circle cx="93.3" cy="80.8" r="2.75" fill="#c8102e"/>
<circle cx="85.2" cy="84.4" r="2.75" fill="#c8102e"/>
<circle cx="93.3" cy="88.7" r="2.75" fill="#c8102e"/>
<circle cx="85.2" cy="93.5" r="2.75" fill="#c8102e"/>
<circle cx="101.3" cy="94.2" r="2.75" fill="#c8102e"/>
<circle cx="77.3" cy="97.7" r="2.75" fill="#c8102e"/>
<circle cx="93.3" cy="97.1" r="2.75" fill="#c8102e"/>
<circle cx="77.3" cy="104.8" r="2.75" fill="#c8102e"/>
<circle cx="93.3" cy="103.3" r="2.75" fill="#c8102e"/>
<circle cx="101.3" cy="102.9" r="2.75" fill="#c8102e"/>
<circle cx="133.5" cy="65.8" r="2.7" fill="#0b4f8c"/>
<circle cx="255.25" cy="31.75" r="2.75" fill="#c8102e"/>
<circle cx="243.25" cy="74.25" r="2.75" fill="#c8102e"/>
<circle cx="255.25" cy="73.25" r="2.75" fill="#c8102e"/>
<circle cx="267.5" cy="78" r="2.75" fill="#c8102e"/>
<circle cx="255.25" cy="81.75" r="2.75" fill="#c8102e"/>
<circle cx="267.5" cy="85.75" r="2.75" fill="#c8102e"/>
<circle cx="255.25" cy="88.75" r="2.75" fill="#c8102e"/>
<circle cx="255.25" cy="94.5" r="2.75" fill="#c8102e"/>
<circle cx="255.25" cy="113" r="2.75" fill="#c8102e"/>
<circle cx="299.5" cy="102.5" r="2.7" fill="#0b4f8c"/>
<circle cx="419.2" cy="29.2" r="2.75" fill="#c8102e"/>
<circle cx="419.2" cy="42.7" r="2.75" fill="#c8102e"/>
<circle cx="413.8" cy="49" r="2.75" fill="#c8102e"/>
<circle cx="424.4" cy="51.5" r="2.75" fill="#c8102e"/>
<circle cx="414.4" cy="68.1" r="2.75" fill="#c8102e"/>
<circle cx="424.8" cy="67.3" r="2.75" fill="#c8102e"/>
<circle cx="424.6" cy="72.9" r="2.75" fill="#c8102e"/>
<circle cx="419.2" cy="78.8" r="2.75" fill="#c8102e"/>
<circle cx="419.2" cy="96" r="2.75" fill="#c8102e"/>
<circle cx="419.2" cy="124.6" r="2.75" fill="#c8102e"/>
<circle cx="462.7" cy="95.8" r="2.7" fill="#0b4f8c"/>
<circle cx="89.8" cy="171.2" r="2.75" fill="#c8102e"/>
<circle cx="89.8" cy="179.2" r="2.75" fill="#c8102e"/>
<circle cx="89.8" cy="196.9" r="2.75" fill="#c8102e"/>
<circle cx="89.8" cy="223.1" r="2.75" fill="#c8102e"/>
<circle cx="102.1" cy="222.5" r="2.75" fill="#c8102e"/>
<circle cx="77.5" cy="227.7" r="2.75" fill="#c8102e"/>
<circle cx="102.1" cy="228.5" r="2.75" fill="#c8102e"/>
<circle cx="77.5" cy="234.4" r="2.75" fill="#c8102e"/>
<circle cx="85.2" cy="232.3" r="2.75" fill="#c8102e"/>
<circle cx="89.8" cy="234.8" r="2.75" fill="#c8102e"/>
<circle cx="102.1" cy="234.4" r="2.75" fill="#c8102e"/>
<circle cx="77.5" cy="243.1" r="2.75" fill="#c8102e"/>
<circle cx="89.8" cy="240.6" r="2.75" fill="#c8102e"/>
<circle cx="102.1" cy="241.9" r="2.75" fill="#c8102e"/>
<circle cx="134" cy="247.2" r="2.7" fill="#0b4f8c"/>
<circle cx="250.4" cy="172.1" r="2.75" fill="#c8102e"/>
<circle cx="240.6" cy="179.8" r="2.75" fill="#c8102e"/>
<circle cx="240.6" cy="186.5" r="2.75" fill="#c8102e"/>
<circle cx="250.4" cy="183.8" r="2.75" fill="#c8102e"/>
<circle cx="259.8" cy="191.3" r="2.75" fill="#c8102e"/>
<circle cx="250.4" cy="194.6" r="2.75" fill="#c8102e"/>
<circle cx="240.6" cy="200.4" r="2.75" fill="#c8102e"/>
<circle cx="250.4" cy="201.5" r="2.75" fill="#c8102e"/>
<circle cx="259.8" cy="201.3" r="2.75" fill="#c8102e"/>
<circle cx="250.4" cy="218.3" r="2.75" fill="#c8102e"/>
<circle cx="286.7" cy="209.4" r="2.7" fill="#0b4f8c"/>
<circle cx="319.6" cy="215.4" r="2.75" fill="#c8102e"/>
<circle cx="313.3" cy="219.6" r="2.75" fill="#c8102e"/>
<circle cx="332.1" cy="216.5" r="2.75" fill="#c8102e"/>
<circle cx="319.6" cy="222.7" r="2.75" fill="#c8102e"/>
<circle cx="326.2" cy="222.5" r="2.75" fill="#c8102e"/>
<circle cx="332.5" cy="224.4" r="2.75" fill="#c8102e"/>
<circle cx="326.2" cy="230.8" r="2.75" fill="#c8102e"/>
<circle cx="319.6" cy="234.8" r="2.75" fill="#c8102e"/>
<circle cx="326.2" cy="237.7" r="2.75" fill="#c8102e"/>
<circle cx="322.9" cy="248.5" r="2.75" fill="#c8102e"/>
<circle cx="359.2" cy="207.5" r="2.7" fill="#0b4f8c"/>
<circle cx="78.1" cy="352.5" r="2.75" fill="#c8102e"/>
<circle cx="86" cy="350" r="2.75" fill="#c8102e"/>
<circle cx="94" cy="353.5" r="2.75" fill="#c8102e"/>
<circle cx="102.3" cy="354.4" r="2.75" fill="#c8102e"/>
<circle cx="86" cy="356.3" r="2.75" fill="#c8102e"/>
<circle cx="90.2" cy="370.4" r="2.75" fill="#c8102e"/>
<circle cx="90.2" cy="380.8" r="2.75" fill="#c8102e"/>
<circle cx="90.2" cy="387.9" r="2.75" fill="#c8102e"/>
<circle cx="134" cy="373.1" r="2.7" fill="#0b4f8c"/>
<circle cx="259.6" cy="320.8" r="2.75" fill="#c8102e"/>
<circle cx="267.3" cy="320.8" r="2.75" fill="#c8102e"/>
<circle cx="275.6" cy="320.8" r="2.75" fill="#c8102e"/>
<circle cx="283.8" cy="318.3" r="2.75" fill="#c8102e"/>
<circle cx="267.3" cy="331.3" r="2.75" fill="#c8102e"/>
<circle cx="275.6" cy="329" r="2.75" fill="#c8102e"/>
<circle cx="315.6" cy="337.8" r="2.7" fill="#0b4f8c"/>
<circle cx="372" cy="321.25" r="2.7" fill="#0b4f8c"/>
<circle cx="372" cy="333.25" r="2.7" fill="#c8102e"/>
<circle cx="218" cy="627" r="1.8" fill="#1a1a1a"/>
<circle cx="243.9" cy="627" r="4.1" fill="#222"/>
</svg>
</body></html>
